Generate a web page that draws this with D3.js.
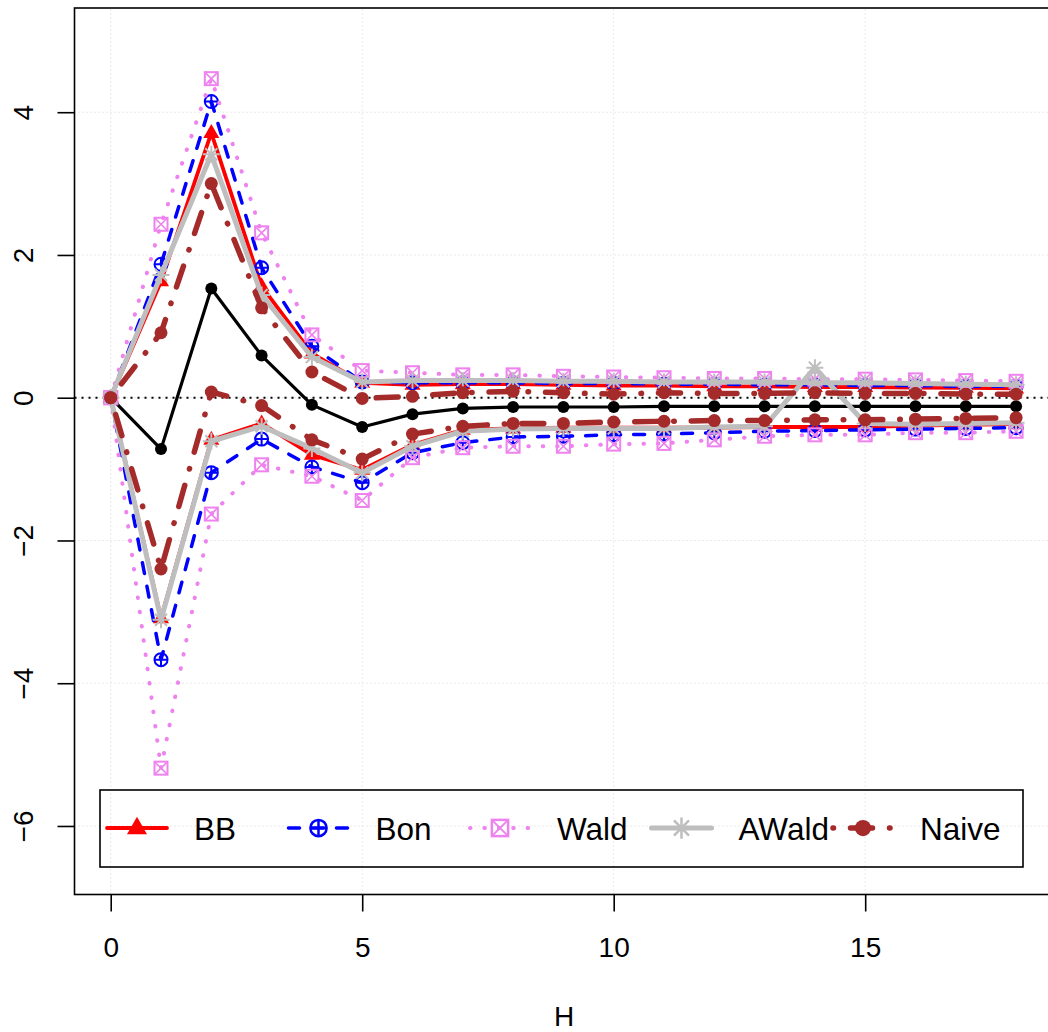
<!DOCTYPE html>
<html><head><meta charset="utf-8">
<script src="https://cdn.jsdelivr.net/npm/d3@7"></script>
<style>
body{margin:0;background:#fff;}
svg text{font-family:"Liberation Sans",Arial,Helvetica,sans-serif;}
</style></head>
<body>
<svg id="chart" width="1048" height="1032"></svg>
<script>
const H = d3.range(0, 19);
const xTicks = [0, 5, 10, 15];
const yTicks = [-6, -4, -2, 0, 2, 4];
const est = [0, -0.72, 1.53, 0.59, -0.10, -0.41, -0.23, -0.15, -0.13, -0.13, -0.13, -0.12, -0.12, -0.12, -0.12, -0.12, -0.12, -0.12, -0.12];
const bbUpper = [0, 1.63, 3.71, 1.56, 0.62, 0.21, 0.18, 0.19, 0.19, 0.18, 0.17, 0.17, 0.16, 0.16, 0.15, 0.15, 0.14, 0.14, 0.13];
const bbLower = [0, -3.09, -0.59, -0.36, -0.80, -1.01, -0.66, -0.45, -0.43, -0.42, -0.42, -0.42, -0.42, -0.41, -0.41, -0.41, -0.39, -0.38, -0.37];
const bonUpper = [0, 1.87, 4.15, 1.82, 0.72, 0.22, 0.21, 0.21, 0.21, 0.20, 0.20, 0.19, 0.19, 0.18, 0.18, 0.17, 0.17, 0.16, 0.16];
const bonLower = [0, -3.67, -1.05, -0.58, -0.97, -1.19, -0.77, -0.63, -0.55, -0.54, -0.52, -0.51, -0.49, -0.47, -0.46, -0.45, -0.44, -0.43, -0.42];
const waldUpper = [0, 2.43, 4.47, 2.31, 0.88, 0.38, 0.35, 0.32, 0.32, 0.30, 0.29, 0.28, 0.27, 0.27, 0.26, 0.26, 0.25, 0.24, 0.23];
const waldLower = [0, -5.19, -1.63, -0.94, -1.10, -1.44, -0.84, -0.70, -0.68, -0.68, -0.65, -0.64, -0.59, -0.54, -0.52, -0.52, -0.49, -0.49, -0.47];
const awaldUpper = [0, 1.72, 3.41, 1.44, 0.57, 0.22, 0.24, 0.24, 0.24, 0.23, 0.23, 0.22, 0.22, 0.22, 0.21, 0.21, 0.20, 0.19, 0.18];
const awaldLower = [0, -3.11, -0.61, -0.40, -0.71, -1.05, -0.68, -0.47, -0.44, -0.43, -0.43, -0.43, -0.41, -0.40, 0.42, -0.36, -0.37, -0.36, -0.35];
const naiveUpper = [0, 0.91, 3.00, 1.26, 0.36, -0.01, 0.02, 0.07, 0.09, 0.07, 0.05, 0.07, 0.06, 0.06, 0.07, 0.06, 0.06, 0.05, 0.05];
const naiveLower = [0, -2.40, 0.08, -0.11, -0.59, -0.86, -0.51, -0.40, -0.36, -0.36, -0.34, -0.33, -0.32, -0.32, -0.31, -0.31, -0.30, -0.29, -0.28];
const legendLabels = ["BB", "Bon", "Wald", "AWald", "Naive"];

const svg = d3.select("#chart");
const x = d3.scaleLinear().domain([-0.72, 18.72]).range([74.5, 1052.3]);
const y = d3.scaleLinear().domain([-6.96, 5.46]).range([894.5, 8]);

// grid
const grid = svg.append("g").attr("stroke", "#d3d3d3").attr("stroke-width", 1).attr("stroke-dasharray", "1,3");
xTicks.forEach(t => grid.append("line").attr("x1", x(t)).attr("x2", x(t)).attr("y1", y.range()[0]).attr("y2", y.range()[1]));
yTicks.forEach(t => grid.append("line").attr("y1", y(t)).attr("y2", y(t)).attr("x1", x.range()[0]).attr("x2", x.range()[1]));

// zero line
svg.append("line").attr("x1", x.range()[0]).attr("x2", x.range()[1]).attr("y1", y(0)).attr("y2", y(0))
  .attr("stroke", "#000").attr("stroke-width", 2).attr("stroke-dasharray", "2,5");

const lineGen = d3.line().x((d, i) => x(H[i])).y(d => y(d));

// marker functions
function triangle(g, cx, cy, col, s) {
  s = s || 1;
  g.append("path").attr("d", `M${cx},${cy - 9 * s}L${cx - 8 * s},${cy + 5 * s}L${cx + 8 * s},${cy + 5 * s}Z`).attr("fill", col);
}
function circlePlus(g, cx, cy, col, s) {
  s = s || 1; const r = 6.5 * s;
  g.append("circle").attr("cx", cx).attr("cy", cy).attr("r", r).attr("fill", "none").attr("stroke", col).attr("stroke-width", 2 * s);
  g.append("path").attr("d", `M${cx - r},${cy}H${cx + r}M${cx},${cy - r}V${cy + r}`).attr("stroke", col).attr("stroke-width", 2 * s);
}
function squareX(g, cx, cy, col, s) {
  s = s || 1; const h = 6.5 * s;
  g.append("rect").attr("x", cx - h).attr("y", cy - h).attr("width", 2 * h).attr("height", 2 * h).attr("fill", "none").attr("stroke", col).attr("stroke-width", 2 * s);
  g.append("path").attr("d", `M${cx - h},${cy - h}L${cx + h},${cy + h}M${cx - h},${cy + h}L${cx + h},${cy - h}`).attr("stroke", col).attr("stroke-width", 1.6 * s);
}
function asterisk(g, cx, cy, col, s) {
  s = s || 1; const a = 8.5 * s, b = a * 0.7071;
  g.append("path").attr("d", `M${cx - a},${cy}H${cx + a}M${cx},${cy - a}V${cy + a}M${cx - b},${cy - b}L${cx + b},${cy + b}M${cx - b},${cy + b}L${cx + b},${cy - b}`)
    .attr("stroke", col).attr("stroke-width", 2 * s).attr("fill", "none");
}
function dot(r) {
  return function (g, cx, cy, col, s) { s = s || 1; g.append("circle").attr("cx", cx).attr("cy", cy).attr("r", r * s).attr("fill", col); };
}

const series = [
  { name: "BB", col: "#FF0000", w: 3.8, dash: null, marker: triangle, data: [bbUpper, bbLower] },
  { name: "Bon", col: "#0000FF", w: 3.5, dash: "11,13", marker: circlePlus, data: [bonUpper, bonLower] },
  { name: "Wald", col: "#EE82EE", w: 4, dash: "0.5,13.9", marker: squareX, data: [waldUpper, waldLower] },
  { name: "AWald", col: "#BEBEBE", w: 5, dash: null, marker: asterisk, data: [awaldUpper, awaldLower] },
  { name: "Naive", col: "#A52A2A", w: 5.5, dash: "0.5,17,22,17", marker: dot(6.5), data: [naiveUpper, naiveLower] }
];

// estimate
const gEst = svg.append("g");
gEst.append("path").attr("d", lineGen(est)).attr("fill", "none").attr("stroke", "#000").attr("stroke-width", 3.2).attr("stroke-linejoin", "round");
est.forEach((v, i) => dot(6)(gEst, x(H[i]), y(v), "#000"));

series.forEach(s => {
  const g = svg.append("g");
  s.data.forEach(arr => {
    const p = g.append("path").attr("d", lineGen(arr)).attr("fill", "none").attr("stroke", s.col)
      .attr("stroke-width", s.w).attr("stroke-linecap", "round").attr("stroke-linejoin", "round");
    if (s.dash) p.attr("stroke-dasharray", s.dash);
    arr.forEach((v, i) => s.marker(g, x(H[i]), y(v), s.col));
  });
});

// box (right edge off-canvas)
svg.append("rect").attr("x", x.range()[0]).attr("y", y.range()[1]).attr("width", x.range()[1] - x.range()[0]).attr("height", y.range()[0] - y.range()[1])
  .attr("fill", "none").attr("stroke", "#000").attr("stroke-width", 1.6);

// x axis
const xAxis = d3.axisBottom(x).tickValues(xTicks).tickSize(17).tickPadding(26).tickFormat(d3.format("d"));
const gx = svg.append("g").attr("transform", `translate(0,${y.range()[0]})`).call(xAxis);
gx.select(".domain").remove();
gx.selectAll(".tick line").attr("stroke", "#000").attr("stroke-width", 1.6);
gx.selectAll(".tick text").attr("font-size", 28).attr("font-family", "Liberation Sans, Arial, sans-serif").attr("fill", "#000").attr("dy", "0.35em").attr("y", 53);

// y axis
const yAxis = d3.axisLeft(y).tickValues(yTicks).tickSize(17).tickFormat(d3.format("d"));
const gy = svg.append("g").attr("transform", `translate(${x.range()[0]},0)`).call(yAxis);
gy.select(".domain").remove();
gy.selectAll(".tick line").attr("stroke", "#000").attr("stroke-width", 1.6);
gy.selectAll(".tick text").attr("font-size", 28).attr("font-family", "Liberation Sans, Arial, sans-serif").attr("fill", "#000")
  .attr("x", null).attr("dy", "0.35em").attr("text-anchor", "middle")
  .attr("transform", `translate(${23 - x.range()[0]},0) rotate(-90)`);
gy.selectAll(".tick text").attr("y", 0);

// x label
svg.append("text").attr("x", 564).attr("y", 1016).attr("dy", "0.35em").attr("text-anchor", "middle").attr("font-size", 28).text("H");

// legend
const lg = svg.append("g");
lg.append("rect").attr("x", 100).attr("y", 790).attr("width", 923).attr("height", 77).attr("fill", "none").attr("stroke", "#000").attr("stroke-width", 1.6);
const ly = 828;
series.forEach((s, i) => {
  const x0 = 107 + i * 181.5;
  const p = lg.append("line").attr("x1", x0).attr("x2", x0 + 60).attr("y1", ly).attr("y2", ly).attr("stroke", s.col)
    .attr("stroke-width", s.w).attr("stroke-linecap", "round");
  if (s.dash) p.attr("stroke-dasharray", s.dash);
  s.marker(lg, x0 + 30, ly, s.col, 1.25);
  lg.append("text").attr("x", x0 + 87).attr("y", ly + 1).attr("dy", "0.35em").attr("font-size", 31.5).text(legendLabels[i]);
});
</script>
</body></html>
